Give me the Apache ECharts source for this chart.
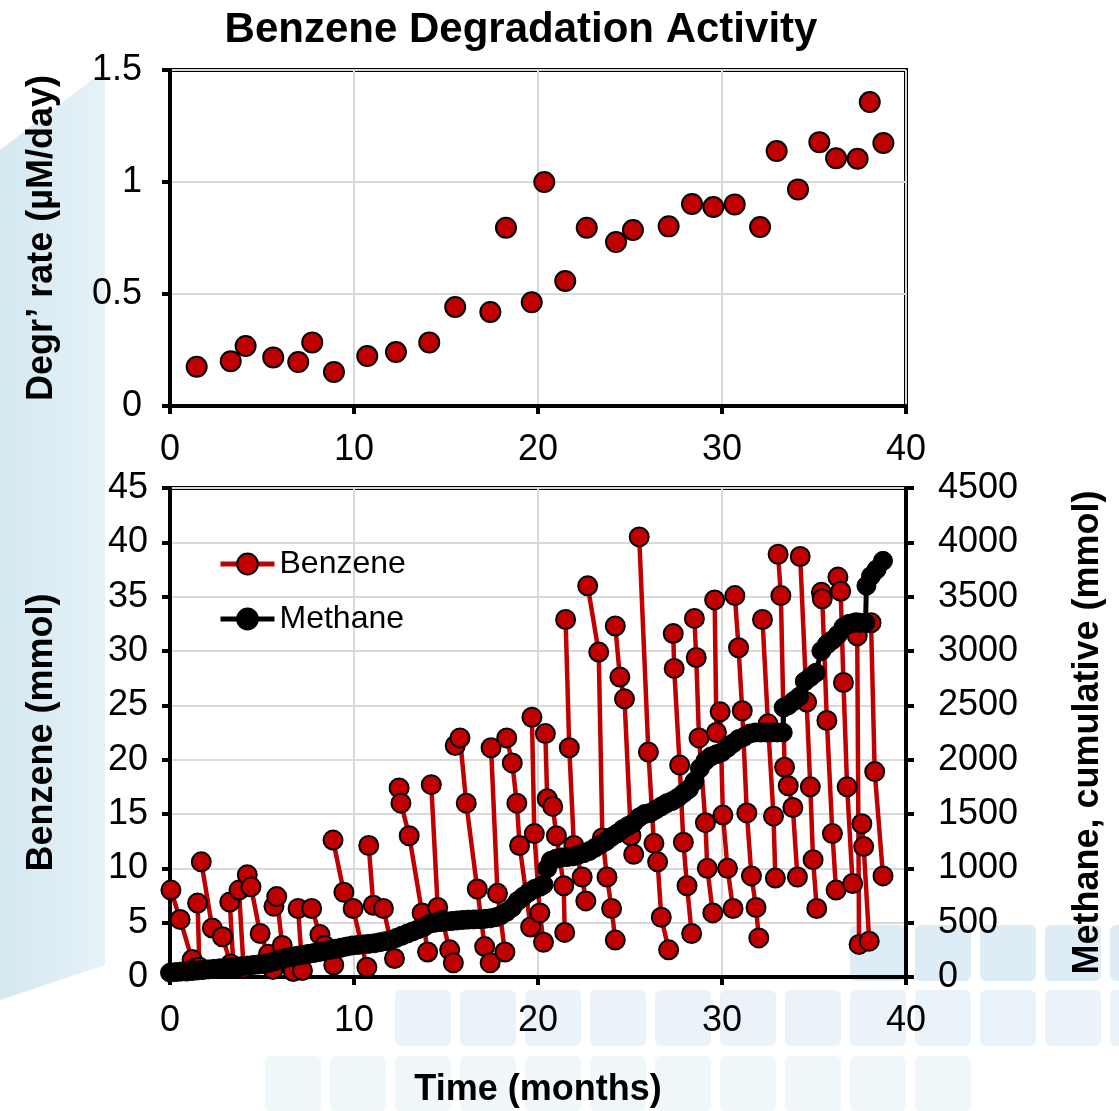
<!DOCTYPE html>
<html><head><meta charset="utf-8">
<script src="https://cdn.jsdelivr.net/npm/echarts@6/dist/echarts.min.js"></script>
<style>html,body{margin:0;padding:0;background:#fff}#c{width:1119px;height:1111px}</style>
</head><body><div id="c"></div>
<script>
// ---- Data ----
const titleText = 'Benzene Degradation Activity';
const xTicks = [0, 10, 20, 30, 40];
const rateTime = [1.45,3.3,4.11,5.61,6.97,7.73,8.91,10.72,12.28,14.09,15.5,17.41,18.26,19.66,20.34,21.48,22.65,24.24,25.16,27.1,28.37,29.53,30.69,32.07,32.97,34.13,35.29,36.2,37.37,38.03,38.77];
const rateValue = [0.175,0.2,0.268,0.217,0.196,0.284,0.152,0.223,0.241,0.284,0.442,0.42,0.796,0.463,1.0,0.558,0.796,0.732,0.786,0.802,0.902,0.888,0.9,0.799,1.138,0.967,1.178,1.106,1.104,1.357,1.174];

// benzene (mmol) feeding cycles: [time, value]
const benzeneCycles = [
  [[0.05,8.0],[0.55,5.3],[1.2,1.6],[1.35,0.8]],
  [[1.5,6.8],[1.6,0.9]],
  [[1.7,10.6],[2.3,4.5],[2.85,3.7],[3.3,1.2]],
  [[3.25,6.9],[3.45,0.9]],
  [[3.75,8.0],[4.0,0.8]],
  [[4.2,9.4],[4.4,8.3],[4.9,4.0],[5.35,2.1],[5.6,0.7]],
  [[5.65,6.5],[5.8,7.4],[6.1,2.9],[6.7,0.5]],
  [[6.96,6.3],[7.2,0.6]],
  [[7.7,6.3],[8.15,3.9],[8.4,2.9],[8.9,1.1]],
  [[8.86,12.6],[9.45,7.8],[9.95,6.3],[10.7,0.9]],
  [[10.8,12.1],[11.05,6.6],[11.6,6.3],[12.2,1.7]],
  [[12.45,17.4],[12.55,16.0],[13.0,13.0],[13.7,5.9],[14.0,2.3]],
  [[14.2,17.7],[14.55,6.4],[14.8,5.2],[15.2,2.5],[15.4,1.3]],
  [[15.5,21.3],[15.76,22.0],[16.1,16.0],[16.7,8.1],[17.1,2.8],[17.4,1.3]],
  [[17.45,21.1],[17.8,7.7],[18.2,2.3]],
  [[18.3,22.0],[18.6,19.7],[18.85,16.0],[19.0,12.1],[19.6,4.6]],
  [[19.67,23.9],[19.8,13.2],[20.1,5.9],[20.3,3.2]],
  [[20.4,22.4],[20.5,16.4],[20.8,15.7],[21.0,13.0],[21.4,8.4],[21.45,4.1]],
  [[21.5,32.9],[21.7,21.1],[21.95,12.1],[22.4,9.2],[22.6,7.0]],
  [[22.7,36.0],[23.3,29.9],[23.5,12.8],[23.75,9.2],[24.0,6.3],[24.2,3.4]],
  [[24.2,32.3],[24.45,27.6],[24.7,25.6],[25.05,13.0],[25.2,11.3]],
  [[25.5,40.5],[26.0,20.7],[26.3,12.3],[26.5,10.6],[26.7,5.5],[27.1,2.5]],
  [[27.35,31.6],[27.4,28.4],[27.7,19.5],[27.9,12.4],[28.1,8.4],[28.35,4.0]],
  [[28.5,33.0],[28.6,29.4],[28.75,22.0],[29.1,14.2],[29.2,10.0],[29.5,5.9]],
  [[29.6,34.7],[29.7,22.5],[29.9,24.4],[30.05,14.9],[30.3,10.0],[30.6,6.3]],
  [[30.7,35.1],[30.9,30.3],[31.1,24.5],[31.35,15.1],[31.6,9.3],[31.85,6.4],[32.0,3.6]],
  [[32.2,32.9],[32.5,23.3],[32.8,14.8],[32.9,9.1]],
  [[33.05,38.9],[33.2,35.1],[33.4,19.3],[33.6,17.6],[33.85,15.6],[34.1,9.2]],
  [[34.25,38.7],[34.6,25.3],[34.8,17.5],[34.95,10.8],[35.15,6.3]],
  [[35.4,35.4],[35.45,34.8],[35.7,23.6],[36.0,13.2],[36.2,8.0]],
  [[36.3,36.8],[36.45,35.5],[36.6,27.1],[36.8,17.5],[37.1,8.6]],
  [[37.3,32.6],[37.35,31.4],[37.45,3.0]],
  [[37.6,14.1],[37.7,12.0],[38.0,3.3]],
  [[38.1,32.6],[38.3,18.9],[38.75,9.3]]
];

// methane cumulative (mmol): [time, value]
const methane = [
  [0,40],[0.3,45],[0.6,50],[0.9,50],[1.2,55],[1.5,60],[1.8,65],[2.1,70],[2.4,75],[2.7,80],[3.0,85],[3.3,90],[3.6,95],[3.9,100],
  [4.2,105],[4.5,110],[4.8,115],[5.1,120],[5.4,130],[5.7,145],[6.0,160],[6.3,175],[6.6,185],[6.9,195],[7.2,205],[7.5,212],
  [7.8,220],[8.1,230],[8.4,240],[8.7,250],[9.0,260],[9.3,270],[9.6,280],[9.9,290],[10.2,295],[10.5,300],[10.8,305],[11.1,310],
  [11.4,320],[11.7,330],[12.0,340],[12.3,360],[12.6,380],[12.9,400],[13.2,420],[13.5,440],[13.8,460],[14.1,490],[14.4,500],
  [14.7,505],[15.0,510],[15.3,515],[15.6,520],[15.9,525],[16.2,528],[16.5,530],[16.8,532],[17.1,535],[17.4,540],[17.7,550],
  [18.0,570],[18.3,600],[18.6,640],[18.9,700],[19.2,740],[19.5,780],[19.8,810],[20.1,830],[20.3,850],[20.5,1000],[20.7,1070],
  [21.0,1090],[21.3,1100],[21.6,1105],[21.9,1110],[22.2,1125],[22.5,1140],[22.8,1160],[23.1,1190],[23.4,1220],[23.7,1250],
  [24.0,1290],[24.3,1320],[24.6,1360],[24.9,1390],[25.2,1420],[25.5,1470],[25.8,1500],[26.1,1510],[26.4,1540],[26.7,1570],
  [27.0,1600],[27.3,1620],[27.6,1650],[27.9,1690],[28.2,1730],[28.5,1800],[28.8,1920],[29.1,1990],[29.4,2030],[29.7,2050],
  [30.0,2070],[30.3,2110],[30.6,2150],[30.9,2190],[31.2,2210],[31.5,2240],[31.8,2250],[32.1,2250],[32.4,2250],[32.7,2250],
  [33.0,2250],[33.3,2250],[33.35,2480],[33.6,2500],[33.9,2540],[34.2,2580],[34.5,2720],[34.8,2760],[35.1,2800],[35.4,3000],
  [35.7,3060],[36.0,3100],[36.3,3150],[36.6,3220],[36.9,3250],[37.2,3260],[37.5,3260],[37.8,3260],[37.85,3600],[38.1,3690],
  [38.4,3750],[38.75,3830]
];

// ---- Build ----
const FONT = "'Liberation Sans', Arial, sans-serif";
const RED = '#c00000';
const GRIDC = '#d9d9d9';

const benzeneData = [];
benzeneCycles.forEach((cyc, i) => {
  cyc.forEach(p => benzeneData.push(p));
  if (i < benzeneCycles.length - 1) benzeneData.push([cyc[cyc.length - 1][0], null]);
});
const rateData = rateTime.map((t, i) => [t, rateValue[i]]);

// decorative background
const deco = [];
deco.push({
  type: 'polygon', z: -10, silent: true,
  shape: { points: [[0, 150], [105, 70], [105, 965], [0, 1000]] },
  style: { fill: new echarts.graphic.LinearGradient(0, 0, 1, 0, [{offset: 0, color: '#d3e8f1'}, {offset: 1, color: '#e7f2f8'}]) }
});
const rows = [
  {y: 925, x0: 850, n: 5, c: '#deedf5'},
  {y: 990, x0: 395, n: 12, c: '#e9f3f9'},
  {y: 1056, x0: 265, n: 11, c: '#f0f7fb'}
];
rows.forEach(r => {
  for (let k = 0; k < r.n; k++) {
    deco.push({ type: 'rect', z: -10, silent: true,
      shape: { x: r.x0 + k * 65, y: r.y, width: 56, height: 56, r: 6 },
      style: { fill: r.c } });
  }
});

const axisLineStyle = { color: '#000', width: 4 };
const tickStyle = { show: true, inside: false, length: 8, lineStyle: { color: '#000', width: 4 } };
const labelBase = { color: '#000', fontSize: 36, fontFamily: FONT };
const nameBase = { color: '#000', fontSize: 36, fontWeight: 'bold', fontFamily: FONT };

const option = {
  animation: false,
  backgroundColor: '#fff',
  graphic: { elements: deco },
  title: {
    text: titleText, left: 516, top: 4, textAlign: 'center',
    textStyle: { color: '#000', fontSize: 42, fontWeight: 'bold', fontFamily: FONT }
  },
  legend: {
    left: 213, top: 543, orient: 'vertical', itemGap: 23, itemWidth: 54, itemHeight: 26,
    lineStyle: { width: 5 },
    textStyle: { color: '#000', fontSize: 32, fontFamily: FONT },
    data: ['Benzene', 'Methane']
  },
  grid: [
    { left: 170, top: 70, width: 736, height: 336, show: true, borderColor: '#000', borderWidth: 4, backgroundColor: 'rgba(255,255,255,1)' },
    { left: 170, top: 488, width: 736, height: 489, show: true, borderColor: '#000', borderWidth: 4, backgroundColor: 'transparent' }
  ],
  xAxis: [
    { type: 'value', gridIndex: 0, min: xTicks[0], max: xTicks[xTicks.length - 1], interval: 10,
      axisLine: { lineStyle: axisLineStyle }, axisTick: tickStyle,
      axisLabel: Object.assign({ margin: 26 }, labelBase),
      splitLine: { show: true, lineStyle: { color: GRIDC, width: 2 } } },
    { type: 'value', gridIndex: 1, min: xTicks[0], max: xTicks[xTicks.length - 1], interval: 10,
      axisLine: { lineStyle: axisLineStyle }, axisTick: tickStyle,
      axisLabel: Object.assign({ margin: 26 }, labelBase),
      splitLine: { show: true, lineStyle: { color: GRIDC, width: 2 } },
      name: 'Time (months)', nameLocation: 'middle', nameGap: 95, nameTextStyle: nameBase }
  ],
  yAxis: [
    { type: 'value', gridIndex: 0, min: 0, max: 1.5, interval: 0.5,
      axisLine: { show: true, lineStyle: axisLineStyle }, axisTick: tickStyle,
      axisLabel: Object.assign({ margin: 28 }, labelBase),
      splitLine: { show: true, lineStyle: { color: GRIDC, width: 2 } },
      name: 'Degr\u2019 rate (\u00b5M/day)', nameLocation: 'middle', nameGap: 110, nameTextStyle: nameBase },
    { type: 'value', gridIndex: 1, min: 0, max: 45, interval: 5,
      axisLine: { show: true, lineStyle: axisLineStyle }, axisTick: tickStyle,
      axisLabel: Object.assign({ margin: 22 }, labelBase),
      splitLine: { show: true, lineStyle: { color: GRIDC, width: 2 } },
      name: 'Benzene (mmol)', nameLocation: 'middle', nameGap: 110, nameTextStyle: nameBase },
    { type: 'value', gridIndex: 1, position: 'right', min: 0, max: 4500, interval: 500,
      axisLine: { show: true, lineStyle: axisLineStyle }, axisTick: tickStyle,
      axisLabel: Object.assign({ margin: 32, formatter: v => String(v) }, labelBase),
      splitLine: { show: false },
      name: 'Methane, cumulative (mmol)', nameLocation: 'middle', nameGap: 164, nameRotate: 90, nameTextStyle: nameBase }
  ],
  series: [
    { name: 'Rate', type: 'scatter', xAxisIndex: 0, yAxisIndex: 0, data: rateData,
      symbol: 'circle', symbolSize: 20,
      itemStyle: { color: RED, borderColor: '#000', borderWidth: 2, opacity: 1 } },
    { name: 'Benzene', type: 'line', xAxisIndex: 1, yAxisIndex: 1, data: benzeneData, connectNulls: false,
      symbol: 'circle', symbolSize: 19, showAllSymbol: true,
      lineStyle: { color: RED, width: 4.5 },
      itemStyle: { color: RED, borderColor: '#000', borderWidth: 2, opacity: 1 }, z: 3 },
    { name: 'Methane', type: 'line', xAxisIndex: 1, yAxisIndex: 2, data: methane,
      symbol: 'circle', symbolSize: 19, showAllSymbol: true,
      lineStyle: { color: '#000', width: 5 },
      itemStyle: { color: '#000', borderColor: '#000', borderWidth: 1, opacity: 1 }, z: 4 }
  ]
};

const chart = echarts.init(document.getElementById('c'), null, { renderer: 'canvas' });
chart.setOption(option);
</script>
</body></html>
